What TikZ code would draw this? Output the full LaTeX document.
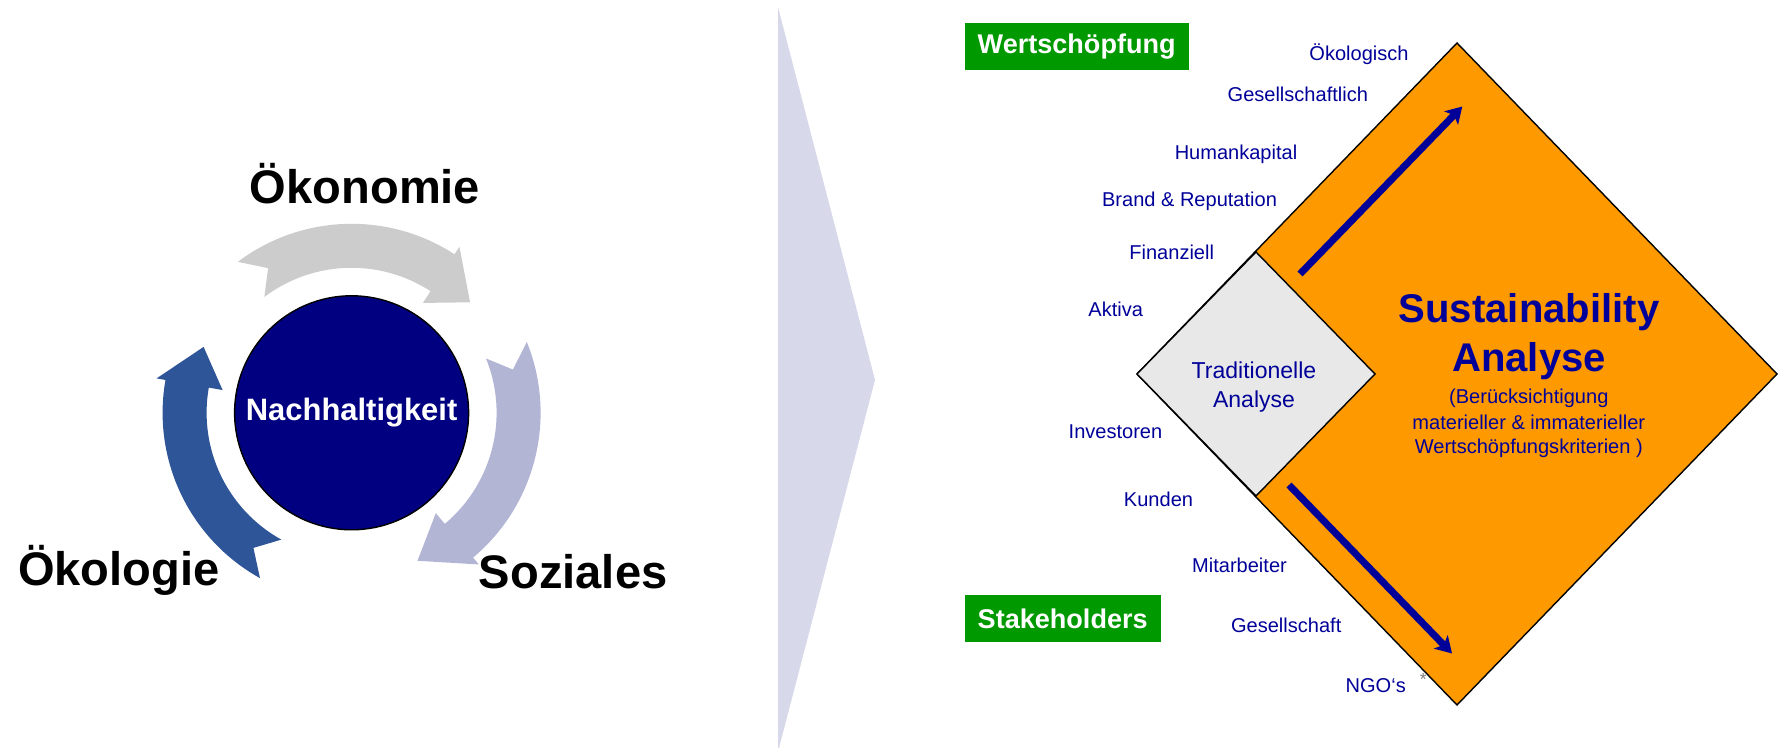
\documentclass[tikz,border=0pt]{standalone}
\usepackage{fontspec}
\setmainfont{Liberation Sans}
\usetikzlibrary{arrows.meta,positioning}

\definecolor{navyfill}{HTML}{000080}
\definecolor{txtblue}{HTML}{000099}
\definecolor{arrowgray}{HTML}{CCCCCC}
\definecolor{arrowlilac}{HTML}{B3B5D5}
\definecolor{arrowblue}{HTML}{2E5597}
\definecolor{chevron}{HTML}{D7D9EB}
\definecolor{sustorange}{HTML}{FF9900}
\definecolor{tradgray}{HTML}{E8E8E8}
\definecolor{boxgreen}{HTML}{009900}

\tikzset{
  >={Stealth[length=1.6mm,width=1.9mm,inset=0.4mm]},
  pillar/.style={font=\fontsize{13.4}{16}\selectfont\bfseries,anchor=base,inner sep=0pt},
  core/.style={circle,draw=black,line width=0.4pt,fill=navyfill,minimum size=2.34cm,
    inner sep=0pt,text=white,font=\fontsize{8.8}{10}\selectfont\bfseries},
  lbl/.style={font=\fontsize{5.7}{7}\selectfont,text=txtblue,anchor=base,inner sep=0pt},
  tradlbl/.style={font=\fontsize{6.55}{8}\selectfont,text=txtblue,anchor=base,inner sep=0pt},
  sustlbl/.style={font=\fontsize{11.4}{14}\selectfont\bfseries,text=txtblue,anchor=base,inner sep=0pt},
  greenbox/.style={fill=boxgreen,text=white,font=\fontsize{7.7}{9}\selectfont\bfseries,
    minimum height=4.76mm,inner xsep=1.3mm,inner ysep=0pt,anchor=west},
  flow/.style={->,line width=2pt,draw=txtblue},
  rim/.style={draw=black,line width=0.4pt},
}

\begin{document}
\begin{tikzpicture}
  \useasboundingbox (0,0) rectangle (17.78,7.48);
  % --- three pillars round the core ---
  \begin{scope}[shift={(3.516,3.352)}]
    % ring arrows: tail angle / head base / tip, clockwise
    \foreach \col/\ta/\hb/\tp in {arrowgray/127/57/43,arrowlilac/22/-50/-66,arrowblue/241/170/156}
      \fill[\col] (\ta:1.89) arc[start angle=\ta,end angle=\hb,radius=1.89]
        -- (\hb:1.98) -- (\tp:1.62) -- (\hb:1.31) -- (\hb:1.45)
        arc[start angle=\hb,end angle=\ta,radius=1.45] -- ({\ta-7}:1.67) -- cycle;
    \node[core] (kern) at (0,0) {Nachhaltigkeit};
  \end{scope}
  \node[pillar] (oeko) at (3.65,5.44) {Ökonomie};
  \node[pillar] (oeko2) at (1.188,1.62) {Ökologie};
  \node[pillar] (sozial) at (5.732,1.59) {Soziales};

  % --- chevron ---
  \fill[chevron] (7.78,7.41) -- (8.75,3.68) -- (7.79,0) -- (7.78,0) -- cycle;

  % --- diamonds ---
  \filldraw[rim,fill=sustorange] (14.57,7.05) -- (17.77,3.74) -- (14.57,0.43) -- (11.37,3.74) -- cycle;
  \filldraw[rim,fill=tradgray] (12.56,4.96) -- (13.75,3.74) -- (12.56,2.52) -- (11.37,3.74) -- cycle;
  \coordinate (upA) at (13.00,4.74);
  \coordinate (upB) at (14.623,6.415);
  \coordinate (dnA) at (12.89,2.63);
  \coordinate (dnB) at (14.52,0.945);
  \draw[flow] (upA) -- (upB);
  \draw[flow] (dnA) -- (dnB);

  \node[tradlbl] (trad1) at (12.54,3.69) {Traditionelle};
  \node[tradlbl] (trad2) at (12.54,3.407) {Analyse};
  \node[sustlbl] (sust1) at (15.29,4.253) {Sustainability};
  \node[sustlbl] (sust2) at (15.29,3.763) {Analyse};
  \node[lbl] (crit1) at (15.288,3.447) {(Berücksichtigung};
  \node[lbl] (crit2) at (15.288,3.187) {materieller \& immaterieller};
  \node[lbl] (crit3) at (15.288,2.94) {Wertschöpfungskriterien )};

  % --- value drivers and stakeholders ---
  \node[greenbox] (wert) at (9.64,7.015) {Wertschöpfung};
  \node[greenbox] (stake) at (9.64,1.295) {Stakeholders};
  \node[lbl] (oekol) at (13.59,6.873) {Ökologisch};
  \node[lbl] (gesl) at (12.978,6.463) {Gesellschaftlich};
  \node[lbl] (human) at (12.36,5.887) {Humankapital};
  \node[lbl] (brand) at (11.895,5.41) {Brand \& Reputation};
  \node[lbl] (finanz) at (11.717,4.88) {Finanziell};
  \node[lbl] (aktiva) at (11.157,4.313) {Aktiva};
  \node[lbl] (invest) at (11.155,3.097) {Investoren};
  \node[lbl] (kunden) at (11.585,2.417) {Kunden};
  \node[lbl] (mitarb) at (12.395,1.75) {Mitarbeiter};
  \node[lbl] (gesch) at (12.862,1.157) {Gesellschaft};
  \node[lbl] (ngo) at (13.757,0.557) {NGO‘s};
  \node[font=\fontsize{5}{6}\selectfont,text=gray,inner sep=0pt] (star) at (14.233,0.687) {*};
\end{tikzpicture}
\end{document}
